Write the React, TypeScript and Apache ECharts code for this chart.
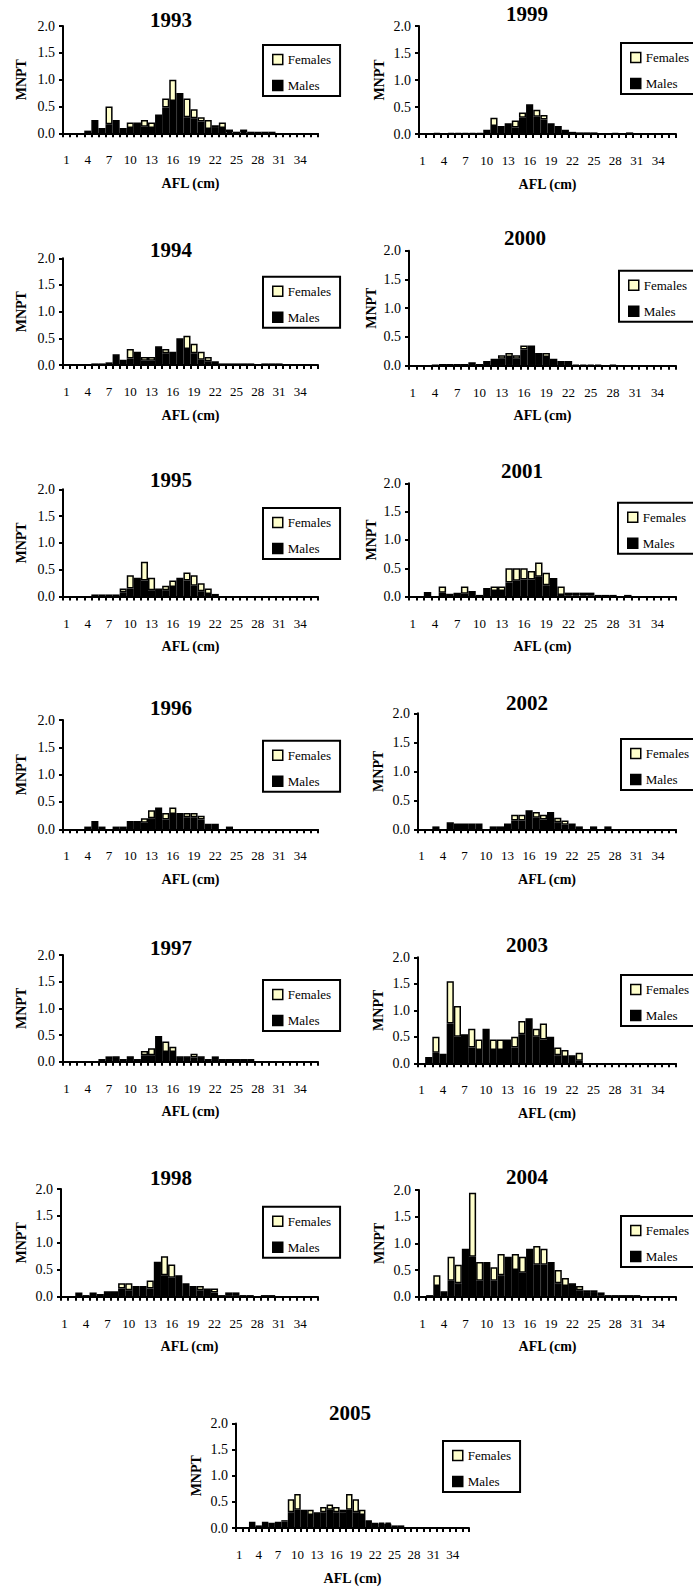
import React, { useEffect, useRef } from "react";
import * as echarts from "echarts";

// Fork length classes (cm)
const lengthClasses = ["1","2","3","4","5","6","7","8","9","10","11","12","13","14","15","16","17","18","19","20","21","22","23","24","25","26","27","28","29","30","31","32","33","34","35","36"];

const yTicks = [0, 0.5, 1.0, 1.5, 2.0];

const males1993 = [0,0,0,0.05,0.25,0.1,0.17,0.25,0.1,0.1, 0.2,0.12,0.1,0.35,0.48,0.6,0.75,0.3,0.28,0.22, 0.08,0.1,0.1,0.02,0.03,0.02,0.03,0.03,0.03,0.03, 0,0,0,0,0,0];
const females1993 = [0,0,0,0,0,0,0.33,0,0,0.1, 0,0.13,0.1,0,0.17,0.4,0,0.35,0.17,0.08, 0.17,0.05,0.1,0.05,0,0.05,0,0,0,0, 0,0,0,0,0,0];

const males1999 = [0,0,0.02,0,0.02,0.02,0.02,0.02,0.02,0.08, 0.15,0.15,0.2,0.12,0.3,0.55,0.32,0.27,0.2,0.15, 0.08,0.04,0.03,0.03,0.03,0,0,0.02,0,0.03, 0,0,0,0,0,0];
const females1999 = [0,0,0,0,0,0,0,0,0,0, 0.15,0,0,0.13,0.1,0,0.13,0.08,0,0, 0,0,0,0,0,0,0,0,0,0, 0,0,0,0,0,0];

const males1994 = [0,0,0,0,0.03,0.03,0.05,0.2,0.1,0.12, 0.25,0.08,0.08,0.35,0.22,0.25,0.5,0.3,0.22,0.1, 0.07,0.07,0.03,0.03,0.03,0.03,0.03,0,0.03,0.03, 0.03,0,0,0,0,0];
const females1994 = [0,0,0,0,0,0,0,0,0,0.18, 0,0.07,0.07,0,0.08,0,0,0.25,0.18,0.15, 0.08,0,0,0,0,0,0,0,0,0, 0,0,0,0,0,0];

const males2000 = [0,0,0,0.02,0.03,0.03,0.03,0.03,0.06,0.03, 0.08,0.12,0.12,0.15,0.12,0.28,0.35,0.22,0.15,0.12, 0.08,0.08,0.02,0.02,0.02,0.02,0,0.02,0,0, 0,0,0,0,0,0];
const females2000 = [0,0,0,0,0,0,0,0,0,0, 0,0,0.06,0.07,0.06,0.07,0,0,0.07,0, 0,0,0,0,0,0,0,0,0,0, 0,0,0,0,0,0];

const males1995 = [0,0,0,0,0.04,0.04,0.04,0.04,0.08,0.15, 0.35,0.3,0.12,0.15,0.12,0.18,0.35,0.3,0.2,0.1, 0.05,0.05,0,0,0,0,0,0,0,0, 0,0,0,0,0,0];
const females1995 = [0,0,0,0,0,0,0,0,0.07,0.25, 0,0.35,0.23,0,0.08,0.12,0,0.15,0.2,0.15, 0.1,0,0,0,0,0,0,0,0,0, 0,0,0,0,0,0];

const males2001 = [0,0,0.08,0,0.07,0.05,0.07,0.05,0.1,0.03, 0.15,0.1,0.1,0.25,0.28,0.3,0.3,0.35,0.2,0.33, 0.03,0.02,0.02,0.02,0.02,0.03,0.03,0.03,0,0.03, 0,0,0,0,0,0];
const females2001 = [0,0,0,0,0.11,0,0,0.13,0,0, 0,0.08,0.08,0.25,0.22,0.2,0.15,0.25,0.22,0, 0.15,0.05,0.05,0.05,0.05,0,0,0,0,0, 0,0,0,0,0,0];

const males1996 = [0,0,0,0.05,0.15,0.05,0,0.05,0.05,0.15, 0.15,0.12,0.2,0.4,0.18,0.28,0.3,0.22,0.22,0.18, 0.1,0.1,0,0.05,0,0,0,0,0,0, 0,0,0,0,0,0];
const females1996 = [0,0,0,0,0,0,0,0,0,0, 0,0.08,0.15,0,0.12,0.12,0,0.08,0.08,0.07, 0,0,0,0,0,0,0,0,0,0, 0,0,0,0,0,0];

const males2002 = [0,0,0.05,0,0.12,0.1,0.1,0.1,0.1,0, 0.05,0.05,0.1,0.15,0.15,0.33,0.2,0.17,0.3,0.12, 0.08,0.1,0.05,0,0.05,0,0.05,0,0,0, 0,0,0,0,0,0];
const females2002 = [0,0,0,0,0,0,0,0,0,0, 0,0,0,0.1,0.1,0,0.1,0.08,0,0.08, 0.07,0,0,0,0,0,0,0,0,0, 0,0,0,0,0,0];

const males1997 = [0,0,0,0,0,0.05,0.05,0.1,0.05,0.1, 0.05,0.12,0.12,0.48,0.18,0.18,0.1,0.1,0.08,0.1, 0.05,0.05,0.05,0.05,0.05,0.05,0.05,0,0,0, 0,0,0,0,0,0];
const females1997 = [0,0,0,0,0,0,0.05,0,0,0, 0,0.08,0.13,0,0.2,0.1,0,0,0.07,0, 0,0.05,0,0,0,0,0,0,0,0, 0,0,0,0,0,0];

const males2003 = [0,0.12,0.2,0.18,0.75,0.5,0.55,0.3,0.25,0.65, 0.25,0.25,0.45,0.3,0.55,0.85,0.5,0.45,0.5,0.15, 0.12,0.15,0.05,0,0,0,0,0,0,0, 0,0,0,0,0,0];
const females2003 = [0,0,0.3,0,0.8,0.58,0,0.35,0.2,0, 0.2,0.2,0,0.2,0.25,0,0.15,0.3,0,0.15, 0.13,0,0.15,0,0,0,0,0,0,0, 0,0,0,0,0,0];

const males1998 = [0,0,0.08,0.03,0.08,0.05,0.1,0.1,0.15,0.12, 0.2,0.2,0.15,0.65,0.4,0.35,0.4,0.25,0.2,0.12, 0.15,0.08,0.03,0.03,0.03,0.03,0.03,0,0.03,0.03, 0,0,0,0,0,0];
const females1998 = [0,0,0,0,0,0,0,0,0.1,0.13, 0,0,0.15,0,0.35,0.25,0,0,0,0.08, 0,0.07,0,0.05,0.05,0,0,0,0,0, 0,0,0,0,0,0];

const males2004 = [0,0.03,0.2,0.1,0.3,0.25,0.9,0.75,0.3,0.65, 0.3,0.4,0.75,0.5,0.45,0.9,0.6,0.6,0.65,0.25, 0.2,0.25,0.12,0.07,0.07,0.03,0.03,0.03,0.03,0.03, 0.03,0,0,0,0,0];
const females2004 = [0,0,0.2,0,0.45,0.35,0,1.2,0.35,0, 0.25,0.4,0,0.3,0.3,0,0.35,0.3,0,0.25, 0.15,0,0.08,0.05,0.05,0.05,0,0,0,0, 0,0,0,0,0,0];

const males2005 = [0,0,0.12,0.05,0.12,0.1,0.12,0.12,0.3,0.35, 0.35,0.25,0.3,0.3,0.35,0.3,0.3,0.35,0.3,0.25, 0.15,0.1,0.08,0.08,0.05,0.05,0,0,0,0, 0,0,0,0,0,0];
const females2005 = [0,0,0,0,0,0,0,0.03,0.25,0.3, 0,0.1,0,0.1,0.1,0.1,0.05,0.3,0.25,0.1, 0,0,0.02,0.02,0,0,0,0,0,0, 0,0,0,0,0,0];

const panels = [
  { year: "1993", males: males1993, females: females1993 },
  { year: "1999", males: males1999, females: females1999 },
  { year: "1994", males: males1994, females: females1994 },
  { year: "2000", males: males2000, females: females2000 },
  { year: "1995", males: males1995, females: females1995 },
  { year: "2001", males: males2001, females: females2001 },
  { year: "1996", males: males1996, females: females1996 },
  { year: "2002", males: males2002, females: females2002 },
  { year: "1997", males: males1997, females: females1997 },
  { year: "2003", males: males2003, females: females2003 },
  { year: "1998", males: males1998, females: females1998 },
  { year: "2004", males: males2004, females: females2004 },
  { year: "2005", males: males2005, females: females2005 },
];

// layout: grid [left, top, width, height], title centre [x, y], legend [left, top], y-name gap
const layouts: Record<string, { grid: number[]; title: number[]; legend: number[]; nameGap: number }> = {
  "1993": { grid: [63, 26, 255, 107.3], title: [171, 20], legend: [263, 45], nameGap: 35 },
  "1999": { grid: [419, 26, 257, 108], title: [527, 14], legend: [621, 43], nameGap: 33 },
  "1994": { grid: [63, 258.3, 255, 106.7], title: [171, 250], legend: [263, 276.7], nameGap: 35 },
  "2000": { grid: [409, 250.7, 267, 115], title: [525, 237.5], legend: [619, 270.7], nameGap: 31 },
  "1995": { grid: [63, 489.3, 255, 107.3], title: [171, 480], legend: [263, 508], nameGap: 35 },
  "2001": { grid: [409, 483.3, 267, 113.3], title: [522, 471], legend: [618, 502.7], nameGap: 31 },
  "1996": { grid: [63, 720, 255, 109.3], title: [171, 708], legend: [263, 740.7], nameGap: 35 },
  "2002": { grid: [418, 713.3, 258, 116], title: [527, 702.5], legend: [621, 739], nameGap: 33 },
  "1997": { grid: [63, 955, 255, 106.7], title: [171, 947.5], legend: [263, 980], nameGap: 35 },
  "2003": { grid: [418, 957.3, 258, 106], title: [527, 945], legend: [621, 975], nameGap: 33 },
  "1998": { grid: [61, 1189, 257, 107.7], title: [171, 1177.5], legend: [263, 1206.7], nameGap: 33 },
  "2004": { grid: [419, 1190, 257, 106.7], title: [527, 1176.7], legend: [621, 1216], nameGap: 33 },
  "2005": { grid: [236, 1423.5, 233, 104.5], title: [350, 1413], legend: [443, 1441], nameGap: 33 },
};

const FONT = "Liberation Serif";
const FEMALE_COLOR = "#FFFFCC";
const PAGE_W = 693;

export default function App() {
  const ref = useRef<HTMLDivElement>(null);

  useEffect(() => {
    if (!ref.current) return;
    const chart = echarts.init(ref.current, null, { renderer: "svg" });

    const grid: any[] = [];
    const xAxis: any[] = [];
    const yAxis: any[] = [];
    const series: any[] = [];
    const legend: any[] = [];
    const graphic: any[] = [];

    panels.forEach((p, i) => {
      const L = layouts[p.year];
      grid.push({ left: L.grid[0], top: L.grid[1], width: L.grid[2], height: L.grid[3] });
      xAxis.push({
        type: "category",
        gridIndex: i,
        data: lengthClasses,
        boundaryGap: true,
        axisLine: { lineStyle: { color: "#000", width: 2 } },
        axisTick: { show: true, interval: 0, length: 4, lineStyle: { color: "#000", width: 2 } },
        axisLabel: { interval: 2, margin: 20, color: "#000", fontFamily: FONT, fontSize: 13 },
        name: "AFL (cm)",
        nameLocation: "middle",
        nameGap: 43,
        nameTextStyle: { fontFamily: FONT, fontWeight: "bold", fontSize: 14, color: "#000" },
      });
      yAxis.push({
        type: "value",
        gridIndex: i,
        min: yTicks[0],
        max: yTicks[yTicks.length - 1],
        interval: yTicks[1] - yTicks[0],
        axisLine: { show: true, lineStyle: { color: "#000", width: 2 } },
        axisTick: { show: true, length: 4, lineStyle: { color: "#000", width: 2 } },
        splitLine: { show: false },
        axisLabel: {
          formatter: (v: number) => v.toFixed(1),
          margin: 8,
          color: "#000",
          fontFamily: FONT,
          fontSize: 14,
        },
        name: "MNPT",
        nameLocation: "middle",
        nameRotate: 90,
        nameGap: L.nameGap,
        nameTextStyle: { fontFamily: FONT, fontWeight: "bold", fontSize: 14, color: "#000" },
      });
      series.push({
        type: "bar",
        name: "Males",
        xAxisIndex: i,
        yAxisIndex: i,
        stack: "s" + i,
        barCategoryGap: "0%",
        data: p.males.map((v) => (v > 0 ? v : null)),
        itemStyle: { color: "#000", borderColor: "#000", borderWidth: 1.5 },
      });
      series.push({
        type: "bar",
        name: "Females",
        xAxisIndex: i,
        yAxisIndex: i,
        stack: "s" + i,
        barCategoryGap: "0%",
        data: p.females.map((v) => (v > 0 ? v : null)),
        itemStyle: { color: FEMALE_COLOR, borderColor: "#000", borderWidth: 1.5 },
      });
      // legends near the right page edge run past it, as in the original
      const cutOff = L.legend[0] + 78 > PAGE_W;
      legend.push({
        left: L.legend[0],
        top: L.legend[1],
        orient: "vertical",
        data: ["Females", "Males"],
        selectedMode: false,
        icon: "rect",
        itemWidth: 10,
        itemHeight: 10,
        itemGap: 13,
        padding: [8, cutOff ? 24 : 9, 4, 9],
        borderColor: "#000",
        borderWidth: 2,
        backgroundColor: "#fff",
        itemStyle: { borderColor: "#000", borderWidth: 1.5 },
        textStyle: { fontFamily: FONT, fontSize: 13, color: "#000" },
      });
      graphic.push({
        type: "text",
        x: L.title[0],
        y: L.title[1],
        style: {
          text: p.year,
          fill: "#000",
          font: "bold 21px " + FONT,
          align: "center",
          verticalAlign: "middle",
        },
      });
    });

    chart.setOption({
      animation: false,
      backgroundColor: "#fff",
      textStyle: { fontFamily: FONT },
      grid,
      xAxis,
      yAxis,
      series,
      legend,
      graphic,
    });

    return () => chart.dispose();
  }, []);

  return (
    <div
      style={{ position: "absolute", left: 0, top: 0, width: PAGE_W, height: 1590, overflow: "hidden", background: "#fff" }}
    >
      <div ref={ref} style={{ position: "absolute", left: 0, top: 0, width: 740, height: 1590 }} />
    </div>
  );
}
